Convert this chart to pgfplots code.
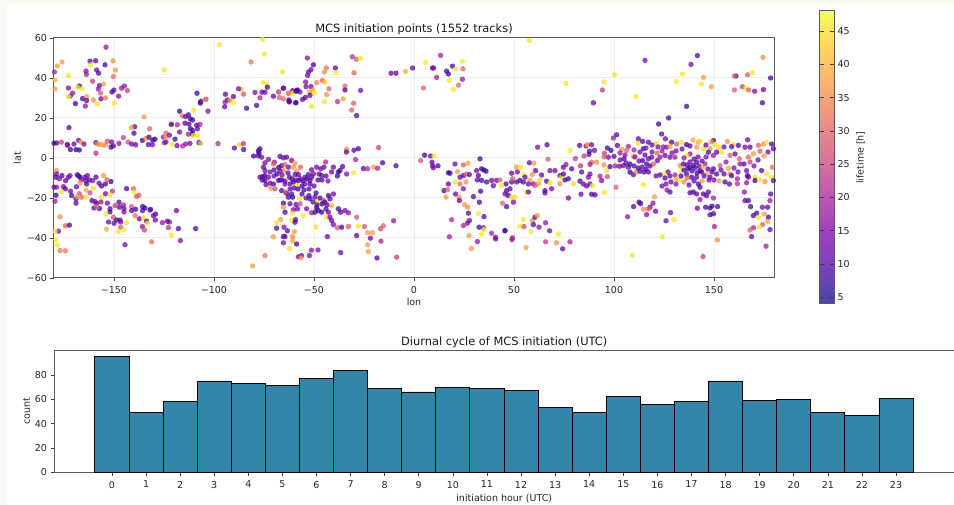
\documentclass[border=0pt]{standalone}
\usepackage{fontspec}
\setmainfont{DejaVu Sans}
\usepackage{pgfplots}
\usepackage{pgfplotstable}
\pgfplotsset{compat=1.18}
\definecolor{strip}{RGB}{251,251,246}
\definecolor{barfill}{RGB}{51,133,170}
\definecolor{spine}{RGB}{90,90,90}
\pgfdeclareplotmark{softdot}{\pgfpathcircle{\pgfpointorigin}{\pgfplotmarksize}\pgfusepathqfill}
\pgfplotstableread{
h c
0 95
1 49
2 58
3 75
4 73
5 71
6 77
7 84
8 69
9 66
10 70
11 69
12 67
13 53
14 49
15 62
16 56
17 58
18 75
19 59
20 60
21 49
22 47
23 61
}\diurnal
\pgfplotsset{
  colormap={plasma}{rgb255=(13,8,135) rgb255=(75,3,161) rgb255=(126,3,168) rgb255=(170,35,149) rgb255=(204,71,120) rgb255=(229,107,93) rgb255=(248,149,64) rgb255=(253,198,39) rgb255=(240,249,33)},
  colormap={plasmabar}{rgb255=(74,70,165) rgb255=(120,66,185) rgb255=(158,66,190) rgb255=(191,90,176) rgb255=(217,117,154) rgb255=(236,144,134) rgb255=(250,176,112) rgb255=(254,212,93) rgb255=(244,251,89)},
  base/.style={
    /pgf/number format/assume math mode=true,
    font=\fontsize{9.5}{11}\selectfont,
    scale only axis,
    axis line style={spine,line width=1pt},
    tick style={black!75,line width=.7pt},
    major tick length=3.5pt,
    tick align=outside,
    tick label style={text=black!85},
    xticklabel style={yshift=-1.5pt},
    label style={text=black!85},
    title style={font=\fontsize{11.4}{13}\selectfont,text=black!90},
  }
}
\begin{document}
\begin{tikzpicture}[x=1pt,y=1pt]
\path[use as bounding box,fill=strip] (0,0) rectangle (954,505);
\fill[white] (6.5,0) rectangle (954,501);
\begin{axis}[base,
  at={(54pt,227pt)},anchor=south west,
  width=720pt,height=240pt,
  xmin=-180,xmax=180,ymin=-60,ymax=60,
  xtick={-150,-100,-50,0,50,100,150},
  xticklabels={−150,−100,−50,0,50,100,150},
  ytick={-60,-40,-20,0,20,40,60},
  yticklabels={−60,−40,−20,0,20,40,60},
  xtick pos=bottom,ytick pos=left,
  xmajorgrids,ymajorgrids,
  grid style={black!7,line width=1pt},
  xlabel={lon},ylabel={lat},
  xlabel style={yshift=2.5pt},ylabel style={yshift=-1pt},
  title={MCS initiation points (1552 tracks)},
  title style={yshift=-6.5pt},
  colormap name=plasma,
  point meta min=4,point meta max=48,
  colorbar,
  colorbar style={
    /pgf/number format/assume math mode=true,
    colormap name=plasmabar,
    at={(1.0632,1.1125)},anchor=north west,
    width=14.5pt,height=293pt,
    ytick={5,10,...,45},
    xtick=\empty,
    ylabel={lifetime [h]},
    ylabel style={rotate=0,font=\fontsize{9.5}{11}\selectfont,text=black!85,yshift=0pt},
    axis line style={spine,line width=1pt},
    tick label style={font=\fontsize{9.5}{11}\selectfont,text=black!85},
  },
]
\addplot[scatter,only marks,mark=softdot,mark size=2.7pt,
  scatter src=explicit,
  scatter/use mapped color={draw=mapped color,fill=mapped color},
  mark options={opacity=.75}]
table[x index=0,y index=1,meta index=2] {
-154 55.4 18
-176 48 37
-178.3 46 38
-162 48.4 11
-159.2 48.6 12
-154.5 46.6 9
-150.5 48.6 36
-149.3 44 37
-161.7 46.6 46
-158.7 44 14
-164 43.4 15
-157.7 42.4 10
-163.8 41.8 20
-150.3 40.7 31
-172.8 41.2 46
-160.7 38.4 25
-179.8 43 20
-179.5 39 40
-179.5 34.5 38
-155.3 37 38
-157.3 36.2 15
-157.8 34.5 18
-172.8 35 16
-167.3 36 8
-168.3 35.4 45
-166 34.7 46
-150 34 12
-151 33 9
-146.2 34.9 18
-144.8 36 17
-143.3 33.7 25
-147.7 30.9 16
-170.7 32.4 17
-171.8 31 18
-172.8 30.7 46
-165.7 29.7 9
-163.7 30.7 37
-163.7 28.7 10
-160.3 29 37
-156.5 29.6 14
-156.7 32.4 30
-154.3 30 33
-169.3 27.2 8
-164.3 26 18
-158.3 27 45
-149.8 27.4 46
-172.5 15.2 11
-180 7.4 9
-178.7 7.5 10
-176.3 7.9 25
-173.3 6.8 14
-173.2 6.3 16
-170 7 11
-171.8 4.2 7
-169 4.2 8
-167.3 4 8
-167.7 8.8 12
-166.5 8 38
-165 7 15
-159 7.7 10
-158.3 7 36
-157 6.8 36
-155.3 6.5 38
-154.3 6.5 37
-159 2.4 22
-153.3 8.4 27
-151.2 8 15
-151.5 5.4 9
-150.3 6 12
-147.5 7.3 18
-145.3 10.2 25
-143 8 27
-141.2 7 14
-139.2 6.6 12
-140 12.4 10
-139.7 15.6 9
-141.3 15.2 37
-135 20.6 37
-132.2 14.6 30
-135.8 8.8 8
-134 9.8 36
-132.5 10.4 10
-132.8 6.7 12
-130.8 6.7 14
-130.7 9 8
-129.5 9.4 7
-125.3 10.4 18
-124 12.4 30
-124 10.5 38
-122.3 11.4 15
-124.8 7.6 18
-124 8 16
-121 6.9 46
-118.5 6.2 14
-115.7 6 22
-114.2 7 17
-112 7.3 15
-107.5 7.7 8
-106.7 7.4 40
-98 7.2 22
-89.8 5 13
-87.3 6.6 44
-85.3 7.2 23
-85.2 4.2 9
-121.5 17 44
-121.3 16.8 8
-119.5 9.4 9
-118.3 16.6 20
-117.2 13 15
-117.2 23.4 8
-115.7 21 30
-114.2 20.7 14
-114.5 17.4 12
-112.8 21.6 9
-111.8 19.6 8
-110.2 23.9 46
-110.7 19 9
-112.5 17 10
-111.8 14.7 9
-110.7 13.7 8
-110.8 12 7
-112.8 11.9 20
-110.3 11.2 45
-108.3 11.4 45
-108.3 14.6 13
-107 16.8 20
-108.7 16.4 10
-106.8 27.4 8
-106 28.7 38
-106.7 28.2 8
-104 29.4 25
-103 23.4 15
-108.5 32.4 8
-178.7 -6.3 37
-178.7 -8 15
-179 -9.6 9
-176 -8.8 8
-177.3 -10.4 15
-178.7 -14.6 18
-180 -14.6 14
-175.3 -14.3 16
-174.2 -11.3 11
-172.8 -9.6 14
-172 -8.8 16
-174.3 -15.4 11
-176.3 -16.8 46
-179 -18.6 8
-179.5 -21.6 18
-171.7 -16.6 14
-168.8 -14.4 14
-171.2 -18.8 10
-169 -20.4 12
-169 -22.6 11
-168.3 -8.4 8
-167.7 -9 12
-167 -9.6 9
-166.2 -11 16
-167 -12.6 37
-164.5 -9.6 13
-163.3 -8.8 14
-164 -11.3 15
-163.7 -13 9
-162.3 -11 11
-160.7 -11.3 16
-159 -9.6 10
-157.5 -12.6 12
-156.2 -14 10
-154.3 -13 9
-151.5 -11.8 8
-155.3 -8.8 37
-153.5 -10.9 30
-160.3 -15.1 45
-164 -16 40
-162 -17.4 28
-167.3 -17.9 27
-166.2 -19.6 30
-168.3 -19.3 38
-164 -19.6 46
-156.3 -19.6 46
-154.2 -17.9 14
-150.8 -16.6 23
-152 -18.4 46
-143.7 -15.3 10
-140.3 -15.4 30
-140 -17.1 46
-137.5 -18.6 30
-138.7 -19.3 28
-161 -21.3 10
-159.5 -21.8 15
-158.7 -22.6 12
-156.5 -22 17
-160 -25 9
-157.3 -25.3 9
-158.7 -24.5 30
-153.3 -22.6 14
-149.5 -23.8 25
-152 -25.4 10
-147.5 -22.1 10
-147.3 -24.6 12
-145.3 -23.6 18
-145 -25.4 14
-145 -27 16
-152 -27 9
-154 -28 46
-150.3 -29.6 28
-148.7 -31 8
-147 -31 10
-152.7 -32 14
-150 -32.6 12
-146.7 -32 15
-143.8 -32.4 46
-146.7 -34.6 30
-145 -36 46
-147.8 -36.8 46
-153.8 -35.6 40
-141.2 -24.3 28
-141.2 -26.3 12
-139.2 -25.6 9
-139.5 -28.8 32
-137.3 -30.4 14
-135.7 -24.3 8
-135.7 -26.3 10
-134.5 -25 8
-132 -26 10
-131.7 -25.7 12
-135.2 -30 46
-133.7 -31.6 9
-133.3 -32.6 46
-135.8 -34.3 17
-134.8 -36 26
-130.3 -28.8 13
-129.2 -28 12
-129.3 -31 14
-125.8 -32.3 18
-123.3 -31.6 13
-122.3 -32 15
-122.8 -34.8 23
-117.8 -35.3 11
-109.2 -35.3 10
-118.8 -26.3 13
-121.3 -38.6 46
-116.8 -41.3 16
-131.2 -41.9 32
-144.5 -43.4 15
-177 -29.4 36
-174.3 -33.9 30
-172.3 -33.6 9
-177.8 -36.6 16
-179.5 -36.6 46
-179 -41 46
-178.3 -43.6 46
-177 -46.3 33
-174.3 -46.4 33
-97.3 56.6 46
-75.7 59.3 46
-74.8 52 46
-81.5 48 32
-65.7 43 46
-75.3 37.8 46
-73.7 36.8 46
-124.8 44 46
-86.2 34.4 44
-87.7 34.6 15
-94.3 31.9 11
-90.3 30.7 12
-93.3 29 9
-92 28.8 36
-94.5 27.9 20
-90.2 27.7 46
-94.7 25.6 13
-83.7 24.9 9
-78.7 26.3 9
-85.2 31.9 28
-79.5 32.8 15
-76 32.9 13
-74.5 32.9 15
-73.3 35.4 9
-77 30.1 20
-70.3 30.9 13
-67.7 33 28
-65.3 34.9 12
-67.3 30.2 30
-65.3 29.6 30
-62.5 29 9
-62.3 28 12
-59.2 27.6 9
-62.8 32.2 36
-60.7 33.7 12
-58.7 33.7 10
-53.3 50 17
-50.3 46.6 9
-43.8 45 32
-44.8 43 36
-51.5 44.2 15
-52.7 43 13
-53.2 41.3 14
-39.3 45 11
-39 42.6 46
-30 42.6 30
-30.8 50.6 22
-28.8 49.4 28
-26.7 49.7 46
-54.2 38 17
-54 35.7 13
-48.7 37.7 36
-45.8 38.7 30
-44.7 38 42
-51.5 35.7 14
-50.7 34 38
-52.3 33 38
-49.8 32.4 46
-60.7 32.4 45
-58.2 34 10
-57 33 12
-59 33.4 8
-62.8 32.4 33
-65.3 34.9 14
-67.8 33 30
-43.7 31.7 37
-42.5 34.6 31
-34.5 36 31
-34.5 34 9
-26.7 33.8 15
-52 31.3 12
-54.3 30.3 11
-55.7 29.3 10
-59 27.7 10
-62.5 28.4 11
-51.2 25.8 46
-44.8 28.2 46
-38.2 28.2 22
-35.5 29.6 38
-30.2 27.4 30
-31.2 24 30
-28.7 21.2 10
-11.5 42.4 14
-9 42.4 12
-4.2 43.3 40
-0.7 45 10
5.7 47.7 46
9.2 45 15
9.8 45 14
13.3 51.3 20
16.3 43.4 8
17.2 42 8
19.3 45.9 9
20.8 44.6 46
24.2 48.3 46
24.5 44.6 31
11.3 40.3 20
17.7 38.8 46
24.2 39.4 18
22.3 36.4 32
19.7 34.3 46
4.7 35 30
-77 4.6 9
-77.8 3.6 8
-77.5 2.4 10
-80.2 1 8
-77.8 1.1 9
-76.2 0.4 14
-33.7 4.4 36
-33.8 3 10
-30 3.9 12
-27.8 4.6 9
-17.7 5.2 26
-29.2 -0.8 20
-30.2 -7.4 46
-25.3 -5.3 11
-23.2 -5.4 22
-20.2 -4.6 38
-18.2 -5.1 20
-15.7 -2.4 9
-9 -3.9 10
5.3 1.4 8
3.3 -1.3 28
8.3 1 12
10 1 46
9 -2.1 12
9.3 -3.9 14
12 -3.9 9
9.7 -4.9 15
-74.5 -2.4 13
-72.8 -0.7 14
-75.3 -4.6 12
-74.5 -6.3 14
-69.8 -2.1 18
-67 0.8 10
-65.3 0.1 14
-63.7 0.4 11
-61.2 -1.2 14
-59.5 -2.6 38
-67.8 -4.6 40
-67.6 -4.8 9
-70.3 -3 30
-66.2 -3.8 11
-64.5 -3.3 30
-62.8 -4.6 15
-60.3 -4.6 37
-56.7 -4.6 30
-58.7 -6.6 36
-65.3 -6.3 36
-67 -6.6 15
-75.7 -9.3 11
-74.5 -8.8 9
-77 -9.6 12
-72.8 -9.6 14
-75.8 -11 9
-74.5 -11.2 10
-74 -13.3 13
-72 -12.6 15
-70.3 -13 10
-71.7 -15.1 37
-69.5 -15.4 28
-67.8 -11.2 12
-66.2 -11 10
-64.5 -11.6 9
-62.3 -9.6 11
-59.5 -8.3 13
-57.8 -8.3 10
-56.7 -10.4 14
-58.7 -13.8 46
-54.5 -9.6 12
-52.8 -8.3 9
-51.2 -5.9 13
-48.7 -4.6 15
-46.7 -5.4 14
-44.2 -2 20
-45 -4.6 12
-40.3 -4.6 13
-35.7 -4.3 10
-41.2 -7 13
-37.8 -7 9
-37 -6.3 8
-38.3 -9 8
-33.7 -8 16
-47.5 -8 12
-46.2 -8.8 11
-51.2 -9.6 10
-52 -11.2 12
-54.5 -13 14
-52 -13 10
-50.3 -8 14
-57.8 -11.3 9
-60.3 -12 8
-62 -13 10
-64.5 -13 15
-67 -11 14
-66.2 -16.3 9
-63.7 -17.6 8
-62.8 -19.6 9
-61.2 -18 10
-60.7 -19.6 8
-64.5 -17 28
-57.3 -20.1 46
-52.5 -18.8 9
-52 -20.4 8
-49.5 -19.6 12
-42.8 -18.8 9
-42 -20.4 10
-40.3 -18 13
-48.3 -21.6 45
-45.3 -21.3 26
-44.5 -22.1 11
-41.2 -23.8 40
-65.3 -22.6 10
-65.3 -24.6 37
-64.5 -27.1 10
-62 -22.9 12
-59 -23.3 11
-57 -22.9 26
-60.3 -25.9 14
-58.2 -25.4 13
-60.8 -27.6 46
-53.7 -25.4 16
-51.2 -27.4 20
-48.7 -24.9 9
-47.8 -26.3 8
-46.2 -27.1 8
-49.5 -27.1 9
-42.8 -27.1 13
-37.8 -25.4 9
-36.7 -27.1 9
-34.5 -26.3 15
-32.8 -27.4 17
-28.7 -29.6 29
-43.7 -29.6 46
-41.2 -31.3 12
-42 -29.6 14
-40.3 -33.3 15
-38.3 -34.9 28
-36.2 -34.6 10
-32.8 -34.3 28
-27.8 -34.1 46
-24.8 -34.3 28
-28.7 -38.8 12
-43.3 -39.3 14
-49 -34.6 46
-55.3 -28.8 46
-66.7 -30.8 38
-68.7 -32.4 46
-61.2 -31.3 46
-59.2 -30.8 14
-59.5 -32.1 9
-68.7 -35.1 11
-65 -34.6 15
-63.3 -36.4 12
-59.8 -36.8 38
-70.3 -39.4 37
-65.3 -39.3 13
-64.5 -39.3 14
-60.7 -39.3 36
-65.3 -42.4 15
-60.7 -41.3 38
-58.7 -43 8
-62.3 -45.3 46
-51.3 -46.1 16
-48 -46 16
-36.7 -47.3 14
-52.3 -48.8 15
-56.2 -48.8 12
-57.8 -49.4 14
-56.5 -50 38
-18.5 -50 9
-8.7 -49.6 24
-74.5 -48.8 33
-80.7 -54 38
-23.2 -37.4 38
-20.8 -37.3 38
-23.2 -43.4 38
-22.8 -46.8 38
-21.8 -40.1 15
-16.5 -41.6 20
-16.7 -35.4 27
-15.3 -33.9 30
-10.2 -31.4 17
20.5 -3 13
24.7 -3.5 30
27 -2.6 38
17.2 -7.4 10
18 -7.6 9
21.8 -6.8 38
23 -9.6 14
24.7 -8.8 13
26.3 -8 30
27.7 -8.3 15
31.3 -6.3 14
33 -0.4 9
33.8 -5.4 8
35 -6 8
36 -6.6 9
32.2 -8.8 10
31.7 -11 12
33.8 -11.2 9
36.3 -12 10
38.8 -11.2 12
41.3 -11.2 14
39.7 -13.8 13
17.2 -13 12
20.5 -12 46
23 -13 32
26 -12 37
24.7 -15.4 16
15 -16.3 9
16.8 -15.8 30
20.8 -18 14
16 -19.6 38
22.5 -19.6 36
22.7 -21.3 13
29.7 -19.3 10
33.3 -16.6 9
32.7 -22.1 10
25.2 -23.3 38
26.8 -24.6 36
27.2 -27.6 12
32.2 -27.6 46
35 -29.3 10
18.8 -30.9 22
27.7 -31.3 13
26.7 -32.6 15
24.7 -33.8 20
32.5 -34.6 10
34.7 -34.9 12
35 -35.8 46
33.8 -38 46
27.5 -38.8 38
17.7 -39.4 20
31.7 -41.8 17
28.7 -45.3 37
38.8 -37.6 20
40.8 -39.6 17
40.8 -40.5 15
45.5 -36.3 10
57.7 58.8 46
76 37.3 46
95.2 38 46
100.2 41.6 46
94.2 34 25
89.7 27.6 11
111 30.7 46
115.5 48.8 15
141.7 51.2 10
138.5 46.8 15
134.3 42 46
131.2 38.2 46
144.7 40.3 38
143.7 37 46
148.7 35.7 38
136.3 25.8 9
127.3 20 9
122.3 17 9
123.8 12 12
125.7 9.6 14
161 41 8
160.2 41 30
166.8 41.6 30
169.3 42.6 46
174.5 50.3 36
178.3 40 9
160.2 34 29
164.2 35.6 24
166 34.9 46
167.3 34 30
170.3 33.4 15
174.7 34.2 13
174.2 27.6 9
57.7 -2.4 11
60 -2.6 38
61.8 5.4 15
66.5 6.6 10
67 -0.6 30
78 3.8 46
82.8 6.3 11
86 6 14
86.7 6.7 38
88.8 6.6 14
90.2 3.8 13
87.7 3.4 9
87.5 1.8 11
85 1 24
80.7 -0.3 24
101.3 11.6 9
99.7 10 18
96.7 5 9
98.5 3.8 8
95.2 2.4 25
95 0.5 30
97.2 0.4 15
101.7 6.3 11
103.8 4.3 36
107.2 5.8 20
106.3 3.8 30
109.8 0.8 36
112.2 9.6 13
112.2 7.4 46
114.3 8.3 10
117.2 7.9 12
121 7.4 46
124.7 5.5 18
114.7 -13.4 46
120.2 -19.4 38
112.5 -22.1 9
113.3 -22.8 9
109.8 -24.3 10
119.5 -22.6 17
118 -24.6 16
114.7 -25.6 36
117.2 -25.5 28
120.8 -26.6 13
116.3 -28.3 16
106.8 -29.4 18
126 -31.4 12
128.3 -27.3 13
130 -30.8 46
124.2 -39.4 46
109.3 -48.6 46
144.5 -49.3 24
151.7 -41 36
150.2 -34.3 19
141.7 -25.1 14
145.8 -24.6 9
148 -25 9
149 -24.1 8
151.8 -24.3 10
149.7 -27.9 9
148 -28.4 10
149.7 -20 20
143 -20.8 18
146.3 -18.8 11
144.7 -18 10
141.3 -18 12
138 -17.4 10
139.7 -17 10
147.2 -17 12
143 -14.6 9
142.2 -13 9
144 -11.5 37
165.5 -21.3 13
167.2 -21.3 10
168.3 -24.3 9
165.2 -17 17
176.8 -24.6 11
174.2 -24.6 15
178 -21.3 18
178.3 -18 12
171.3 -27.6 9
169.7 -28.8 10
172.2 -29.6 46
175 -28 38
177.2 -29.6 9
176.8 -31.7 38
174.3 -33.3 30
172.7 -34.6 46
169.7 -34.9 20
168 -36 30
168.8 -39.3 12
178 -35.8 13
176 -44.1 19
53 -34.1 46
54.7 -30.8 46
59.2 -31.3 36
60.5 -29.6 9
61.7 -28.8 38
59.7 -33.3 10
55 -34.3 27
62.5 -34.6 17
58.5 -36.9 46
65.8 -32.4 18
67.8 -36.4 14
72.2 -38 46
45.5 -36.4 10
49.2 -39.9 20
49 -40.8 18
65.8 -41.9 24
71.2 -42.4 36
78 -41.9 20
74.3 -45.4 13
56 -44.8 38
43 -11 30
46 -13 10
48.8 -12 12
46.3 -16.3 10
43.8 -13.8 46
47.2 -18.8 9
48.8 -19.6 46
50.5 -19.6 46
49.7 -22.1 15
46.3 -24.3 10
44.3 -22.6 30
48 -15.4 12
45.5 -18 14
51.3 -4.6 38
53.3 -4.6 46
51.7 -7 16
48.8 -7.6 13
49.3 -10.4 28
54.7 -8.3 46
55.5 -9.6 13
53 -11.2 10
51.3 -12 13
54.7 -12 11
58 -11.2 37
57.2 -13 12
59.7 -13 14
62.2 -13 37
56.3 -17.1 46
57.2 -17 14
60.5 -13.8 30
59.2 -8.3 37
60.8 -6.3 11
63.8 -8.5 13
63 -11.2 45
66.3 -11.6 10
68 -12.4 46
65.5 -16.3 10
68.8 -15.4 14
65.5 -17.5 11
68 -6.3 14
70.5 -6.3 15
73 -8.8 12
74.7 -4.6 13
76 -3.3 18
78.8 -5.4 10
83.3 -3.9 22
77.2 -20 13
73.8 -9.6 46
74.7 -8 10
75.5 -11 9
73 -12.9 36
77.2 -10.4 9
79.7 -12.9 45
83 -11.6 11
84.7 -13 14
87.2 -9.6 15
88 -8 13
83.8 -7 12
88 -13 9
89.2 -13.8 46
86.3 -14 12
83.5 -18.1 13
88.8 -18.1 9
90.5 -18.4 10
93.8 -11.3 15
95.2 -17.1 46
101 -14.6 30
91.3 -2.1 36
88.8 -2.1 30
88 -3.2 20
95 -3.4 37
96.3 -6.3 46
93 -9.1 20
96.7 -9.3 28
98 -4.3 9
100.5 -4 20
102.7 -4.1 14
104.7 -3.8 13
107.2 -4.6 11
108 -7.1 9
109.7 -8.3 12
105 -0.4 9
111.3 -7 36
113 -6.6 10
115 -7 9
117.2 -7 11
116.3 -3 9
114.3 -1.3 10
117.2 -0.4 12
114.7 4.6 9
118.8 0.4 12
119.7 -3 30
121.7 -1.3 14
123 0.4 18
125.5 1.3 13
128 0.4 15
130.5 0.4 20
126.3 5.4 16
128.8 7.9 11
131.3 7 30
128 5.8 37
133.8 7.9 45
136.3 6.7 9
142.2 7.9 37
141.3 5.4 38
138 2 18
133 -3.8 37
134.7 -3 10
136.3 1.3 46
133.8 -6.3 46
138 -4.6 9
139.7 -3.8 8
141.3 -2.1 9
143 -6.3 8
136.3 -8 10
138.8 -9.6 9
141.3 -9.6 11
143.8 -7 10
146.3 -8 38
148 -9.6 12
151.3 -8 11
153 -3.8 30
149.7 -5.4 10
145.5 -3 20
149.7 8.7 9
150.5 6.7 46
152.2 5.4 44
153.8 2.9 46
151.3 2.9 13
148 4.6 36
144.7 4.6 45
147.2 2.9 10
149.7 1.3 18
156.7 8.3 37
159.7 6.7 46
158.8 5.7 12
162.2 6.3 10
158 1.3 30
160.5 2 11
162.7 -0.4 30
163 -3 18
166.8 9.1 13
165.5 5.4 14
168 5.4 11
169.7 2.1 38
167.2 0.5 30
172.2 6.3 30
174.7 7 36
176.3 7.9 46
178.8 7 9
179.7 4.6 12
173 3.4 30
179.2 -4.6 32
173.8 -6.3 11
176.3 -8 46
178.8 -9.6 46
179.7 -11.3 13
175.5 -11.8 37
170.5 -9.6 45
167.2 -9.6 14
166.3 -6.3 14
166.7 -8.8 9
161.7 -10.4 20
161.7 -12.9 22
158 -8 36
158.8 -8.8 9
157.2 -5.1 38
155.5 -12 10
157.7 -13 12
166.3 -12.4 18
170.5 -11.3 9
173 -10.8 46
103 -1 14
106 -2.5 12
108 -3 9
110 -4 10
112 -5 9
114 -4.5 13
116 -5.5 8
118 -4 11
112.5 -1.5 14
110.5 0.5 16
115.5 1.5 12
119 3 15
121.5 2.5 30
124 3.5 18
122 5.5 14
119 6.5 13
116 5 16
113 3 14
110 4 20
105.5 1.5 16
103 2.5 18
100 0.8 12
127 -7 14
125 -8 46
123 -8.5 10
121 -9 14
125.5 -10 9
128 -9 12
130.5 -8.5 20
128.5 -12 13
126 -13 16
124 -14 14
126.5 -16 18
128 -17 11
131 -13 16
133 -11 46
135 -12 36
136.5 -10 30
131 -10.5 38
133.5 -9 9
135 -6 9
136.5 -3.5 10
138 -2 13
140 -0.5 11
142 0.5 14
144 -1.5 12
146 0.5 16
137 -5.5 8
139 -6.5 9
140.5 -5 10
141.5 -7.5 9
142.5 -4 13
144.5 -4.5 38
147 -5.5 11
149 -7 9
145 -9 13
147.5 -11 14
150 -11 15
152.5 -11.5 37
140 -11.5 14
137.5 -13.5 12
155 -8 12
153.5 -6 14
156 -2 18
160 -5 15
162 -7 13
165 -3 12
168 -2 25
170 -4 16
172 -1 14
175 1 38
177 3 15
155 5.5 14
148.5 8 37
146 6.5 12
143 8.5 45
139.5 9 40
138 6 10
134 4.5 12
131 3.5 14
129 2.5 16
135 0 18
-63 -7.5 10
-61 -10.5 9
-59 -11 12
-55.5 -11.5 8
-53.5 -10.5 10
-56 -14 9
-58 -15.5 8
-60 -15 10
-62 -15.5 12
-55 -16 9
-52.5 -15.5 10
-50 -14 12
-48 -11 9
-46 -11 10
-44 -9 12
-43 -11.5 14
-49 -17.5 8
-47 -20 9
-46 -23 8
-44 -25.5 9
-48.5 -23.5 8
-50.5 -22 10
-54 -20 12
-56 -18 9
-43.5 -23.5 13
-72 -7 15
-70 -6 11
-70 -9 13
-68.5 -8 9
-66 -8.5 14
}; 
\end{axis}
\begin{axis}[base,
  at={(54pt,32.5pt)},anchor=south west,
  width=916pt,height=122pt,
  xmin=-1.70,xmax=25.17,ymin=0,ymax=100,
  xtick={0,1,...,23},
  ytick={0,20,40,60,80},
  xtick pos=bottom,ytick pos=left,
  ybar,bar width=1,
  bar shift=0pt,
  xlabel={initiation hour (UTC)},ylabel={count},
  xlabel style={at={(ticklabel cs:0.4915)},yshift=1pt},ylabel style={yshift=-2pt},
  title={Diurnal cycle of MCS initiation (UTC)},
  title style={at={(0.4915,1)},yshift=-6.5pt},
]
\addplot[fill=barfill,draw=black,line width=.9pt] table[x=h,y=c] {\diurnal};
\end{axis}
\end{tikzpicture}
\end{document}
